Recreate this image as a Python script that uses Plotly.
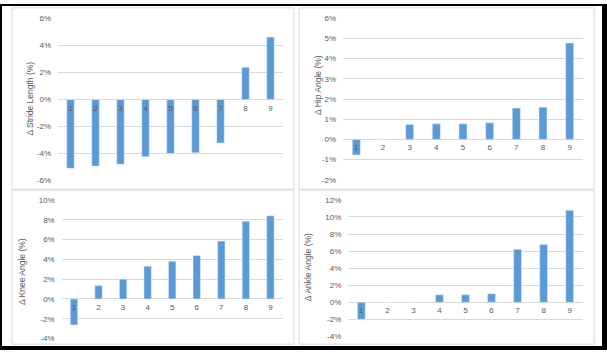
import plotly.graph_objects as go

W, H = 607, 355

categories = ["1", "2", "3", "4", "5", "6", "7", "8", "9"]

stride_length = [-5.1, -4.94, -4.8, -4.24, -4.0, -3.95, -3.23, 2.39, 4.63]
hip_angle = [-0.77, 0.0, 0.74, 0.77, 0.77, 0.82, 1.55, 1.59, 4.78]
knee_angle = [-2.62, 1.35, 2.0, 3.31, 3.8, 4.39, 5.84, 7.84, 8.4]
ankle_angle = [-2.0, 0.0, 0.0, 0.88, 0.88, 1.0, 6.2, 6.78, 10.78]

stride_ticks = [-6, -4, -2, 0, 2, 4, 6]
stride_ticktext = ["-6%", "-4%", "-2%", "0%", "2%", "4%", "6%"]
hip_ticks = [-2, -1, 0, 1, 2, 3, 4, 5, 6]
hip_ticktext = ["-2%", "-1%", "0%", "1%", "2%", "3%", "4%", "5%", "6%"]
knee_ticks = [-4, -2, 0, 2, 4, 6, 8, 10]
knee_ticktext = ["-4%", "-2%", "0%", "2%", "4%", "6%", "8%", "10%"]
ankle_ticks = [-4, -2, 0, 2, 4, 6, 8, 10, 12]
ankle_ticktext = ["-4%", "-2%", "0%", "2%", "4%", "6%", "8%", "10%", "12%"]

titles = ["Δ Stride Length (%)", "Δ Hip Angle (%)", "Δ Knee Angle (%)", "Δ Ankle Angle (%)"]


def px(x):
    return x / W


def py(y):
    return 1 - y / H


BAR = "#5b9bd5"
GRID = "#d9d9d9"
TXT = "#595959"
FONT = "Liberation Sans"

# plot areas in pixels: (x0, x1, ytop, ybottom)
panels = [
    dict(vals=stride_length, ticks=stride_ticks, tt=stride_ticktext, rng=[-6, 6],
         area=(58, 283, 15, 181), title_xy=(30, 97)),
    dict(vals=hip_angle, ticks=hip_ticks, tt=hip_ticktext, rng=[-2, 6],
         area=(343, 583, 14.7, 180.3), title_xy=(318, 83)),
    dict(vals=knee_angle, ticks=knee_ticks, tt=knee_ticktext, rng=[-4, 10],
         area=(61.7, 282.7, 201, 343.3), title_xy=(22, 275)),
    dict(vals=ankle_angle, ticks=ankle_ticks, tt=ankle_ticktext, rng=[-4, 12],
         area=(348.3, 582.7, 201, 341), title_xy=(308, 270)),
]

fig = go.Figure()
layout = dict(
    width=W, height=H,
    margin=dict(l=0, r=0, t=0, b=0),
    paper_bgcolor="white", plot_bgcolor="white",
    showlegend=False,
    font=dict(family=FONT, size=8, color=TXT),
    shapes=[], annotations=[],
)

for i, p in enumerate(panels):
    n = "" if i == 0 else str(i + 1)
    x0, x1, yt, yb = p["area"]
    ydom = [py(yb), py(yt)]
    lo, hi = p["rng"]
    zero_pos = ydom[0] + (0 - lo) / (hi - lo) * (ydom[1] - ydom[0])
    fig.add_trace(go.Bar(x=categories, y=p["vals"], marker_color=BAR, width=0.3,
                         xaxis="x" + n, yaxis="y" + n, hoverinfo="skip"))
    layout["xaxis" + n] = dict(
        domain=[px(x0), px(x1)], anchor="free", position=zero_pos,
        type="category", range=[-0.5, 8.5], showgrid=False, zeroline=False,
        showline=False, ticks="", tickfont=dict(size=8, color=TXT, family=FONT),
        ticklabelstandoff=2,
    )
    layout["yaxis" + n] = dict(
        domain=ydom, anchor="x" + n, range=[lo, hi],
        tickvals=p["ticks"], ticktext=p["tt"], showgrid=True, gridcolor=GRID,
        gridwidth=1, zeroline=True, zerolinecolor=GRID, zerolinewidth=1,
        showline=False, ticks="", tickfont=dict(size=8, color=TXT, family=FONT),
        ticklabelstandoff=6,
    )
    tx, ty = p["title_xy"]
    layout["annotations"].append(dict(
        text=titles[i], x=px(tx), y=py(ty), xref="paper", yref="paper",
        textangle=-90, showarrow=False, font=dict(size=8.5, color=TXT, family=FONT),
        xanchor="center", yanchor="middle"))

# panel borders
for (a, b, c, d) in [(12, 294, 4, 190), (299, 594, 4, 190), (12, 294, 191, 349), (299, 594, 191, 349)]:
    layout["shapes"].append(dict(type="rect", xref="paper", yref="paper",
                                 x0=px(a), x1=px(b), y0=py(d), y1=py(c),
                                 line=dict(color=GRID, width=1), layer="below"))

# outer black frame
for (a, b, c, d) in [(0, 2, 0, H), (0, W, 0, 2), (602, W, 0, H), (0, W, 351, H)]:
    layout["shapes"].append(dict(type="rect", xref="paper", yref="paper",
                                 x0=px(a), x1=px(b), y0=py(d), y1=py(c),
                                 line=dict(width=0), fillcolor="black", layer="above"))

fig.update_layout(**layout)
fig.write_html("out.html",
               config={"displayModeBar": False, "staticPlot": True},
               post_script="document.body.style.margin='0';document.body.style.overflow='hidden';")
